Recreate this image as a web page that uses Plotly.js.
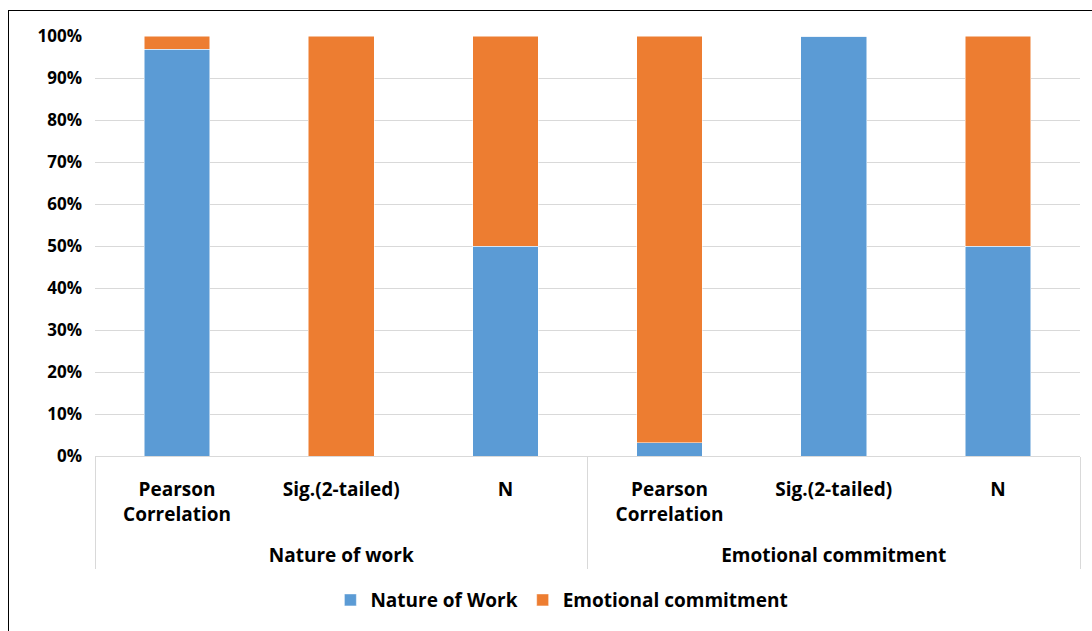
<!DOCTYPE html>
<html>
<head>
<meta charset="utf-8">
<script src="https://cdn.plot.ly/plotly-3.0.1.min.js"></script>
<style>
html,body{margin:0;padding:0;background:#fff;overflow:hidden;}
#frame{position:absolute;left:8px;top:10px;width:1100px;height:640px;border-left:1.5px solid #000;border-top:1.5px solid #000;}
#chart{position:absolute;left:0;top:0;width:1092px;height:631px;}
</style>
</head>
<body>
<div id="frame"></div>
<div id="chart"></div>
<script>
const groups = ["Nature of work","Nature of work","Nature of work","Emotional commitment","Emotional commitment","Emotional commitment"];
const measures = ["Pearson Correlation","Sig.(2-tailed)","N","Pearson Correlation","Sig.(2-tailed)","N"];
const natureOfWork = [1, 0, 100, 0.033, 0.818, 100];
const emotionalCommitment = [0.033, 0.818, 100, 1, 0, 100];

// tick label text: wrap "Pearson Correlation" onto two lines, plus an invisible spacer line
const spacer = "<br><span style='font-size:37px'>\u00a0</span>";
const measureLabels = measures.map(m => m.replace(" ", "<br>") + spacer);

const fam = "'Open Sans', Lato, sans-serif";

const traces = [
  {type: "bar", name: "Nature of Work", x: [groups, measureLabels], y: natureOfWork,
   marker: {color: "#5B9BD5", line: {color: "#ffffff", width: 0.5}}},
  {type: "bar", name: "Emotional commitment", x: [groups, measureLabels], y: emotionalCommitment,
   marker: {color: "#ED7D31", line: {color: "#ffffff", width: 0.5}}}
];

const layout = {
  width: 1092, height: 631,
  margin: {l: 95, r: 12, t: 36, b: 172},
  barmode: "stack", barnorm: "percent", bargap: 0.6,
  paper_bgcolor: "rgba(0,0,0,0)", plot_bgcolor: "rgba(0,0,0,0)",
  font: {family: fam, size: 17, color: "#000"},
  showlegend: true,
  legend: {orientation: "h", x: 0.474, xanchor: "center", y: -0.343, yanchor: "middle",
           font: {family: fam, size: 19, color: "#000", weight: "bold"}, traceorder: "normal"},
  xaxis: {type: "multicategory", automargin: false, showline: true, linecolor: "#d9d9d9", linewidth: 1,
          showdividers: true, dividercolor: "#d9d9d9", dividerwidth: 1,
          ticklabelstandoff: 16,
          tickfont: {family: fam, size: 19, color: "#000", weight: "bold"}},
  yaxis: {range: [0, 100], dtick: 10, ticksuffix: "%", showgrid: true, gridcolor: "#d9d9d9",
          zeroline: false, ticklabelstandoff: 12, automargin: false,
          tickfont: {family: fam, size: 17, color: "#000", weight: "bold"}}
};

Plotly.newPlot("chart", traces, layout, {displayModeBar: false, staticPlot: true});
</script>
</body>
</html>
